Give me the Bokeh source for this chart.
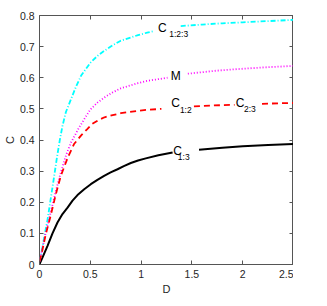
import numpy as np
from bokeh.plotting import figure
from bokeh.models import Range1d, LinearAxis, FixedTicker, Label
from bokeh.embed import file_html
from bokeh.resources import INLINE

NAN = float("nan")

# C_{1:2:3} (cyan, dash-dot)
d_c123 = [0, 0.013, 0.045, 0.08, 0.11, 0.145, 0.17, 0.2, 0.226, 0.26, 0.31, 0.36, 0.41, 0.5, 0.57,
          0.64, 0.72, 0.8, 0.97, 1.06, 1.13,
          NAN, 1.39, 1.6, 1.8, 2.0, 2.25, 2.5]
c_c123 = [0.01, 0.028, 0.085, 0.146, 0.21, 0.285, 0.34, 0.40, 0.445, 0.49, 0.531, 0.572, 0.607, 0.648, 0.67,
          0.687, 0.704, 0.719, 0.737, 0.745, 0.750,
          NAN, 0.766, 0.771, 0.775, 0.778, 0.782, 0.786]

# M (magenta, dotted)
d_m = [0, 0.02, 0.06, 0.11, 0.16, 0.21, 0.26, 0.31, 0.39, 0.45, 0.5, 0.57, 0.64, 0.72, 0.8, 0.97, 1.06, 1.26,
       NAN, 1.46, 1.75, 2.0, 2.25, 2.5]
c_m = [0.01, 0.039, 0.10, 0.167, 0.235, 0.296, 0.35, 0.392, 0.44, 0.472, 0.498, 0.52, 0.537, 0.553, 0.566,
       0.583, 0.590, 0.600,
       NAN, 0.613, 0.623, 0.629, 0.634, 0.638]

# C_{1:2} / C_{2:3} (red, dashed)
d_c12 = [0, 0.02, 0.06, 0.11, 0.16, 0.21, 0.28, 0.34, 0.41, 0.47, 0.52, 0.58, 0.64, 0.72, 0.8, 0.97, 1.06, 1.2,
         NAN, 1.52, 1.7, 1.92, NAN, 2.19, 2.35, 2.5]
c_c12 = [0.01, 0.033, 0.095, 0.157, 0.225, 0.285, 0.345, 0.387, 0.415, 0.435, 0.452, 0.464, 0.473, 0.48, 0.486,
         0.494, 0.497, 0.500,
         NAN, 0.508, 0.511, 0.513, NAN, 0.516, 0.518, 0.519]

# C_{1:3} (black, solid)
d_c13 = [0, 0.007, 0.029, 0.079, 0.128, 0.177, 0.226, 0.276, 0.325, 0.374, 0.44, 0.505, 0.57, 0.636, 0.7,
         0.768, 0.83, 0.899, 0.97, 1.046, 1.17, 1.31,
         NAN, 1.57, 1.8, 2.0, 2.25, 2.5]
c_c13 = [0, 0.006, 0.022, 0.06, 0.10, 0.135, 0.162, 0.183, 0.205, 0.223, 0.242, 0.258, 0.272, 0.285, 0.296,
         0.306, 0.316, 0.326, 0.334, 0.341, 0.351, 0.36,
         NAN, 0.369, 0.375, 0.38, 0.384, 0.387]

x_ticks = [0, 0.5, 1, 1.5, 2, 2.5]
y_ticks = [0, 0.1, 0.2, 0.3, 0.4, 0.5, 0.6, 0.7, 0.8]

# curve labels: (main, subscript, x_main, y_main, x_sub, y_sub)
curve_labels = [
    ("C", "1:2:3", 1.21, 0.760, 1.37, 0.740),
    ("M", "", 1.34, 0.607, None, None),
    ("C", "1:2", 1.34, 0.519, 1.44, 0.497),
    ("C", "2:3", 1.975, 0.519, 2.07, 0.499),
    ("C", "1:3", 1.36, 0.366, 1.42, 0.344),
]

FONT = "Liberation Sans"
AX = "#555555"
TXT = "#262626"

p = figure(frame_width=254, frame_height=249, output_backend="svg", toolbar_location=None,
           x_range=Range1d(0, 2.5), y_range=Range1d(0, 0.8),
           min_border_left=0, min_border_right=0, min_border_top=15, min_border_bottom=0)
p.xgrid.visible = False
p.ygrid.visible = False
p.outline_line_color = AX
p.outline_line_width = 1
p.background_fill_color = "white"
p.border_fill_color = "white"

for ax, ticks in ((p.xaxis[0], x_ticks), (p.yaxis[0], y_ticks)):
    ax.ticker = FixedTicker(ticks=ticks)
    ax.axis_line_color = None
    ax.major_tick_in = 4
    ax.major_tick_out = 0
    ax.major_tick_line_color = AX
    ax.minor_tick_line_color = None
    ax.major_label_text_font = FONT
    ax.major_label_text_font_size = "10.5px"
    ax.major_label_text_color = TXT
    ax.axis_label_text_font = FONT
    ax.axis_label_text_font_size = "11px"
    ax.axis_label_text_font_style = "normal"
    ax.axis_label_text_color = TXT

p.xaxis[0].axis_label = "D"
p.xaxis[0].axis_label_standoff = 2
p.xaxis[0].major_label_standoff = 5
p.yaxis[0].axis_label = "C"
p.yaxis[0].axis_label_standoff = 1
p.yaxis[0].major_label_standoff = 5

for loc, ticks in (("above", x_ticks), ("right", y_ticks)):
    a = LinearAxis(ticker=FixedTicker(ticks=ticks))
    a.axis_line_color = None
    a.major_tick_in = 4
    a.major_tick_out = 0
    a.major_tick_line_color = AX
    a.minor_tick_line_color = None
    a.major_label_text_font_size = "0px"
    a.major_label_text_color = None
    a.major_label_standoff = 0
    p.add_layout(a, loc)

p.line(d_c13, c_c13, line_color="black", line_width=2)
p.line(d_c123, c_c123, line_color="#00FFFF", line_width=1.8, line_dash="5 2 1 2")
p.line(d_m, c_m, line_color="#FF00FF", line_width=1.8, line_dash="1 2")
p.line(d_c12, c_c12, line_color="#FF0000", line_width=1.8, line_dash="6 4")

for main, sub, xm, ym, xs, ys in curve_labels:
    p.add_layout(Label(x=xm, y=ym, text=main, text_font=FONT, text_font_size="12px",
                       text_color="black", text_align="center", text_baseline="middle"))
    if sub:
        p.add_layout(Label(x=xs, y=ys, text=sub, text_font=FONT, text_font_size="8.5px",
                           text_color="black", text_align="center", text_baseline="middle"))

open("out.html", "w").write(file_html(p, INLINE))
